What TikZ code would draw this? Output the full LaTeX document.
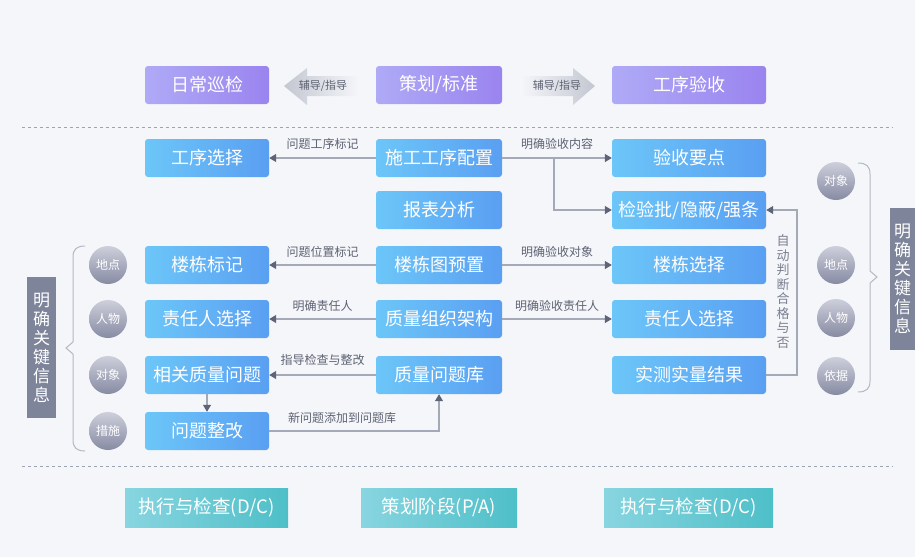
\documentclass[tikz,border=0pt]{standalone}
\usepackage{fontspec}
\setmainfont{Noto Sans CJK SC}
\usetikzlibrary{arrows.meta}
\definecolor{bg}{HTML}{F5F6FA}
\definecolor{blueL}{HTML}{6CC6F8}
\definecolor{blueR}{HTML}{5A9FF2}
\definecolor{purL}{HTML}{AFAAF6}
\definecolor{purR}{HTML}{9A84EF}
\definecolor{tealL}{HTML}{88D5E0}
\definecolor{tealR}{HTML}{4EBFC8}
\definecolor{lineg}{HTML}{A4A9B8}
\definecolor{tipg}{HTML}{5E6478}
\definecolor{lblg}{HTML}{5E6373}
\definecolor{vlblg}{HTML}{7A7F90}
\definecolor{circT}{HTML}{CDCFDB}
\definecolor{circB}{HTML}{878BA3}
\definecolor{keyg}{HTML}{7E8499}
\definecolor{dashg}{HTML}{9EA3B3}
\definecolor{arrg}{HTML}{C3C7D1}
\definecolor{braceg}{HTML}{B4B8C5}
\begin{document}
\begin{tikzpicture}[x=1pt,y=-1pt,
  box/.style={rounded corners=3pt, minimum height=38pt, inner sep=0pt, text=white,
    font=\fontsize{18}{20}\selectfont},
  bluebox/.style={box, left color=blueL, right color=blueR},
  purbox/.style={box, left color=purL, right color=purR},
  tealbox/.style={box, rounded corners=0pt, minimum height=39pt, left color=tealL, right color=tealR,
    font=\fontsize{18.5}{20}\selectfont},
  colL/.style={minimum width=124pt},
  colM/.style={minimum width=126pt},
  colR/.style={minimum width=154pt},
  circ/.style={circle, minimum size=38pt, inner sep=0pt, top color=circT, bottom color=circB,
    text=white, font=\fontsize{12}{13}\selectfont},
  keybox/.style={fill=keyg, text=white, inner sep=0pt, align=center,
    font=\fontsize{17}{19}\selectfont},
  conn/.style={draw=lineg, line width=1.2pt, -{Triangle[length=7pt,width=8pt,color=tipg]}},
  lbl/.style={text=lblg, font=\fontsize{12}{14}\selectfont, inner sep=1pt},
  dashln/.style={draw=dashg, line width=0.8pt, dash pattern=on 3pt off 3pt},
  bracepath/.style={draw=braceg, line width=1pt},
  tiny/.style={text=lblg, font=\fontsize{11}{12}\selectfont}
]
\fill[bg] (0,0) rectangle (915,557);
\useasboundingbox (0,0) rectangle (915,557);

% top row
\node[purbox, colL] (rcxj) at (207,85) {日常巡检};
\node[purbox, colM] (chbz) at (439,85) {策划/标准};
\node[purbox, colR] (gxys) at (689,85) {工序验收};
% top arrows
\path[left color=arrg, right color=bg, shading angle=90]
  (284,86) -- (307,68) -- (307,76) -- (359,76) -- (359,96) -- (307,96) -- (307,105) -- cycle;
\path[left color=bg, right color=arrg]
  (595,86) -- (573,68) -- (573,76) -- (521,76) -- (521,96) -- (573,96) -- (573,105) -- cycle;
\node[tiny] (fdl) at (323,86) {辅导/指导};
\node[tiny] (fdr) at (557,86) {辅导/指导};

% dashed separators
\draw[dashln] (22,127) -- (893,127);
\draw[dashln] (22,466) -- (893,466);

% middle rows
\node[bluebox, colL] (gxxz) at (207,158) {工序选择};
\node[bluebox, colM] (sgpz) at (439,158) {施工工序配置};
\node[bluebox, colR] (ysyd) at (689,158) {验收要点};
\node[bluebox, colM] (bbfx) at (439,210) {报表分析};
\node[bluebox, colR] (jyp) at (689,210) {检验批/隐蔽/强条};
\node[bluebox, colL] (ldbj) at (207,265) {楼栋标记};
\node[bluebox, colM] (ldyz) at (439,265) {楼栋图预置};
\node[bluebox, colR] (ldxz) at (689,265) {楼栋选择};
\node[bluebox, colL] (zrrL) at (207,319) {责任人选择};
\node[bluebox, colM] (zzjg) at (439,319) {质量组织架构};
\node[bluebox, colR] (zrrR) at (689,319) {责任人选择};
\node[bluebox, colL] (xgwt) at (207,375) {相关质量问题};
\node[bluebox, colM] (wtk) at (439,375) {质量问题库};
\node[bluebox, colR] (scsl) at (689,375) {实测实量结果};
\node[bluebox, colL] (wtzg) at (207,431) {问题整改};

% connectors
\draw[conn] (sgpz.west) -- node[lbl, midway, yshift=14pt] {问题工序标记} (gxxz.east);
\draw[conn] (sgpz.east) -- node[lbl, midway, yshift=14pt] {明确验收内容} (ysyd.west);
\coordinate (br) at (554,158);
\draw[conn] (br) |- (jyp.west);
\draw[conn] (ldyz.west) -- node[lbl, midway, yshift=13pt] {问题位置标记} (ldbj.east);
\draw[conn] (ldyz.east) -- node[lbl, midway, yshift=13pt] {明确验收对象} (ldxz.west);
\draw[conn] (zzjg.west) -- node[lbl, midway, yshift=13pt] {明确责任人} (zrrL.east);
\draw[conn] (zzjg.east) -- node[lbl, midway, yshift=13pt] {明确验收责任人} (zrrR.west);
\draw[conn] (wtk.west) -- node[lbl, midway, yshift=15pt] {指导检查与整改} (xgwt.east);
\draw[conn] (xgwt.south) -- (wtzg.north);
\draw[conn] (wtzg.east) -| (wtk.south);
\node[lbl] (xwt) at (342,418) {新问题添加到问题库};
\coordinate (fb) at (797,375);
\draw[conn] (scsl.east) -- (fb) |- (jyp.east);
\node[lbl, text=vlblg, align=center, font=\fontsize{13}{14.5}\selectfont] (zdpd) at (783,291.5)
  {自\\动\\判\\断\\合\\格\\与\\否};

% left circles and brace
\node[circ] (c1) at (108,265) {地点};
\node[circ] (c2) at (108,319) {人物};
\node[circ] (c3) at (108,375) {对象};
\node[circ] (c4) at (108,431) {措施};
\draw[bracepath] (85,246) .. controls (77,246) and (73,249) .. (73,257) -- (73,342) -- (66,348)
  -- (73,354) -- (73,440) .. controls (73,448) and (77,451) .. (85,451);
\node[keybox, minimum width=29pt, minimum height=141pt] (keyL) at (41.5,347.5)
  {明\\确\\关\\键\\信\\息};

% right circles and brace
\node[circ] (d1) at (836,181) {对象};
\node[circ] (d2) at (836,265) {地点};
\node[circ] (d3) at (836,318) {人物};
\node[circ] (d4) at (836,376) {依据};
\draw[bracepath] (858,163) .. controls (866,163) and (870,166) .. (870,174) -- (870,271) -- (877,277)
  -- (870,283) -- (870,381) .. controls (870,389) and (866,392) .. (858,392);
\node[keybox, minimum width=25pt, minimum height=142pt] (keyR) at (902.5,279)
  {明\\确\\关\\键\\信\\息};

% bottom row
\node[tealbox, minimum width=163pt] (dc1) at (206.5,507.5) {执行与检查(D/C)};
\node[tealbox, minimum width=156pt] (pa) at (439,507.5) {策划阶段(P/A)};
\node[tealbox, minimum width=169pt] (dc2) at (688.5,507.5) {执行与检查(D/C)};
\end{tikzpicture}
\end{document}
